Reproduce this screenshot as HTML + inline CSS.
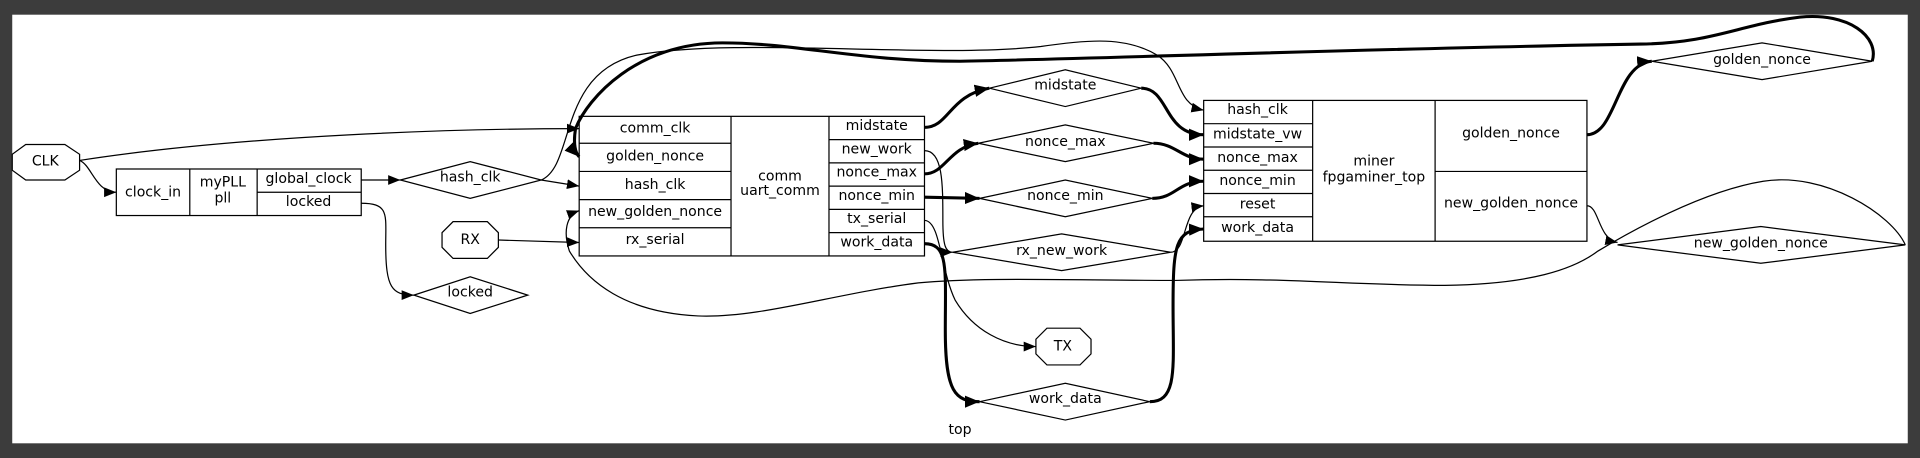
<!DOCTYPE html>
<html><head><meta charset="utf-8"><style>
html,body{margin:0;padding:0;background:#3c3c3c;}
svg{display:block;}
text{font-family:"DejaVu Sans","Liberation Sans",sans-serif;font-size:11.5px;fill:#000;text-anchor:middle;dominant-baseline:central;}
</style></head><body>
<svg width="1920" height="458" viewBox="0 0 1568 374" preserveAspectRatio="none" xmlns="http://www.w3.org/2000/svg">
<defs>
<marker id="a" markerUnits="userSpaceOnUse" markerWidth="12" markerHeight="10" refX="10" refY="4" orient="auto"><path d="M0,0 L10,4 L0,8 z" fill="#000"/></marker>
<marker id="b" markerUnits="userSpaceOnUse" markerWidth="14" markerHeight="12" refX="12" refY="5" orient="auto"><path d="M0,0 L12,5 L0,10 z" fill="#000"/></marker>
</defs>
<rect x="0" y="0" width="1568" height="374" fill="#3c3c3c"/>
<rect x="10" y="12" width="1548" height="350" fill="#fff"/>
<g fill="#fff" stroke="#000" stroke-width="1">
<!-- CLK -->
<polygon points="21,118 53,118 65,126 65,139 53,147 21,147 10,139 10,126"/>
<!-- RX -->
<polygon points="370,181 398,181 407,190 407,202 398,211 370,211 361,202 361,190"/>
<!-- TX -->
<polygon points="855,268 882,268 891,277 891,289 882,298 855,298 846,289 846,277"/>
<!-- pll -->
<rect x="95" y="138" width="200" height="38"/>
<line x1="155" y1="138" x2="155" y2="176"/><line x1="210" y1="138" x2="210" y2="176"/><line x1="210" y1="157" x2="295" y2="157"/>
<!-- comm -->
<rect x="473" y="95" width="282" height="114"/>
<line x1="597" y1="95" x2="597" y2="209"/><line x1="677" y1="95" x2="677" y2="209"/>
<line x1="473" y1="117" x2="597" y2="117"/><line x1="473" y1="140" x2="597" y2="140"/><line x1="473" y1="163" x2="597" y2="163"/><line x1="473" y1="186" x2="597" y2="186"/>
<line x1="677" y1="114" x2="755" y2="114"/><line x1="677" y1="133" x2="755" y2="133"/><line x1="677" y1="152" x2="755" y2="152"/><line x1="677" y1="171" x2="755" y2="171"/><line x1="677" y1="190" x2="755" y2="190"/>
<!-- miner -->
<rect x="983" y="82" width="313" height="115"/>
<line x1="1072" y1="82" x2="1072" y2="197"/><line x1="1172" y1="82" x2="1172" y2="197"/>
<line x1="983" y1="101" x2="1072" y2="101"/><line x1="983" y1="120" x2="1072" y2="120"/><line x1="983" y1="139" x2="1072" y2="139"/><line x1="983" y1="158" x2="1072" y2="158"/><line x1="983" y1="177" x2="1072" y2="177"/>
<line x1="1172" y1="140" x2="1296" y2="140"/>
<!-- diamonds -->
<polygon points="327,147 384,132 442,147 384,162"/>
<polygon points="338,241 384,226 431,241 384,256"/>
<polygon points="808,72 870,57 932,72 870,87"/>
<polygon points="799,117 870,102 942,117 870,132"/>
<polygon points="800,162 870,147 941,162 870,177"/>
<polygon points="778,206 867,191 956,206 867,221"/>
<polygon points="800,328 870,313 939,328 870,343"/>
<polygon points="1349,50 1439,35 1529,50 1439,65"/>
<polygon points="1321,200 1438,185 1556,200 1438,215"/>
</g>
<g fill="none" stroke="#000" stroke-width="1">
<path d="M65,131 C200,110 380,105 473,105" marker-end="url(#a)"/>
<path d="M65,131 C75,135 78,157 95,157" marker-end="url(#a)"/>
<path d="M295,147 L327,147" marker-end="url(#a)"/>
<path d="M442,147 L473,152" marker-end="url(#a)"/>
<path d="M442,147 C470,135 455,60 520,45 C600,30 760,48 850,38 C890,32 920,30 945,45 C965,58 960,85 983,90" marker-end="url(#a)"/>
<path d="M407,196 L473,198" marker-end="url(#a)"/>
<path d="M295,166 C318,166 315,175 315,200 C315,235 320,241 338,241" marker-end="url(#a)"/>
<path d="M755,123 C770,123 770,150 770,180 C770,200 772,206 778,206" marker-end="url(#a)"/>
<path d="M956,206 C970,206 965,170 983,168" marker-end="url(#a)"/>
<path d="M755,180 C768,180 768,220 780,245 C795,270 820,283 846,283" marker-end="url(#a)"/>
<path d="M1296,168 C1306,168 1305,195 1321,198" marker-end="url(#a)"/>
<path d="M1556,200 C1545,175 1490,140 1440,148 C1390,156 1330,190 1305,205 C1285,220 1250,232 1180,233 C1100,233 1050,226 960,229 C880,229 800,226 750,231 C680,240 620,260 570,258 C510,255 480,230 465,205 C460,190 462,176 473,172" marker-end="url(#a)"/>
</g>
<g fill="none" stroke="#000" stroke-width="2.5">
<path d="M1296,110 C1320,110 1320,52 1349,50" marker-end="url(#b)"/>
<path d="M1529,50 C1535,30 1510,10 1470,14 C1420,20 1400,35 1340,36 C1100,40 900,48 784,50 C700,50 650,35 590,35 C520,35 480,80 470,105 C468,118 470,125 473,128" marker-end="url(#b)"/>
<path d="M755,104 C775,104 775,78 808,72" marker-end="url(#b)"/>
<path d="M932,72 C955,72 950,110 983,110" marker-end="url(#b)"/>
<path d="M755,142 C772,142 775,120 799,117" marker-end="url(#b)"/>
<path d="M942,117 C960,117 965,130 983,130" marker-end="url(#b)"/>
<path d="M755,161 L800,162" marker-end="url(#b)"/>
<path d="M941,162 C960,162 962,148 983,148" marker-end="url(#b)"/>
<path d="M755,199 C775,199 772,220 772,270 C772,320 780,328 800,328" marker-end="url(#b)"/>
<path d="M939,328 C962,328 958,300 958,250 C958,200 960,188 983,187" marker-end="url(#b)"/>
</g>
<g>
<text x="37" y="132">CLK</text>
<text x="384" y="196">RX</text>
<text x="868" y="283">TX</text>
<text x="125" y="157">clock_in</text>
<text x="182" y="149">myPLL</text><text x="182" y="162">pll</text>
<text x="252" y="146">global_clock</text>
<text x="252" y="165">locked</text>
<text x="535" y="105">comm_clk</text>
<text x="535" y="128">golden_nonce</text>
<text x="535" y="151">hash_clk</text>
<text x="535" y="173">new_golden_nonce</text>
<text x="535" y="196">rx_serial</text>
<text x="637" y="144">comm</text><text x="637" y="156">uart_comm</text>
<text x="716" y="103">midstate</text>
<text x="716" y="122">new_work</text>
<text x="716" y="141">nonce_max</text>
<text x="716" y="160">nonce_min</text>
<text x="716" y="179">tx_serial</text>
<text x="716" y="198">work_data</text>
<text x="1027" y="90">hash_clk</text>
<text x="1027" y="110">midstate_vw</text>
<text x="1027" y="129">nonce_max</text>
<text x="1027" y="148">nonce_min</text>
<text x="1027" y="167">reset</text>
<text x="1027" y="186">work_data</text>
<text x="1122" y="132">miner</text><text x="1122" y="145">fpgaminer_top</text>
<text x="1234" y="109">golden_nonce</text>
<text x="1234" y="166">new_golden_nonce</text>
<text x="384" y="145">hash_clk</text>
<text x="384" y="239">locked</text>
<text x="870" y="70">midstate</text>
<text x="870" y="116">nonce_max</text>
<text x="870" y="160">nonce_min</text>
<text x="867" y="205">rx_new_work</text>
<text x="870" y="326">work_data</text>
<text x="1439" y="49">golden_nonce</text>
<text x="1438" y="199">new_golden_nonce</text>
<text x="784" y="351">top</text>
</g>
</svg>
</body></html>
